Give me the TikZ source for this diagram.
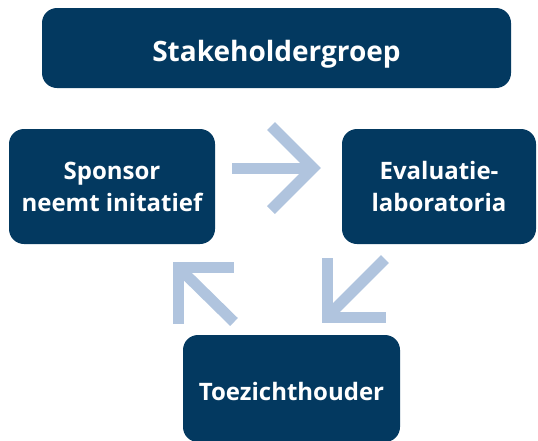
\documentclass[tikz,border=0pt]{standalone}
\usepackage{fontspec}
\setmainfont{Open Sans}
\usetikzlibrary{calc}
\definecolor{navy}{RGB}{3,57,96}
\definecolor{paleblue}{RGB}{176,196,222}

\begin{document}
\begin{tikzpicture}[x=1pt,y=-1pt,
    textdrop/.style={execute at begin node={\rule{0pt}{#1}}},
    box/.style={fill=navy, rounded corners=15pt, text=white, align=center, inner sep=0pt,
      font=\bfseries\fontsize{24}{32}\selectfont, textdrop=25pt},
    flow/.style={draw=paleblue, line width=11pt, line join=miter}]
  \useasboundingbox (0,0) rectangle (538,440);
  \node[box, minimum width=469pt, minimum height=80pt, textdrop=33pt,
    font=\bfseries\fontsize{28}{32}\selectfont] (stake) at (276.5,48) {Stakeholdergroep};
  \node[box, minimum width=206pt, minimum height=115pt] (sponsor) at (112,186.5) {Sponsor\\neemt initatief};
  \node[box, minimum width=194pt, minimum height=115pt] (evalab) at (439,186.5) {Evaluatie-\\laboratoria};
  \node[box, minimum width=217pt, minimum height=107pt] (toezicht) at (291.5,388.5) {Toezichthouder};
  % arrows between the boxes
  \coordinate (r1) at (232,168);
  \coordinate (r2) at (313,168);
  \coordinate (d1) at (385,259);
  \coordinate (d2) at (327,317);
  \coordinate (u1) at (234,322);
  \coordinate (u2) at (178,267);
  \draw[flow] (r1) -- (r2);
  \draw[flow] ($(r2)+(-42,-42)$) -- (r2) -- ($(r2)+(-42,42)$);
  \draw[flow] (d1) -- (d2);
  \draw[flow] ($(d2)+(0,-59)$) -- (d2) -- ($(d2)+(59,0)$);
  \draw[flow] (u1) -- (u2);
  \draw[flow] ($(u2)+(0,57)$) -- (u2) -- ($(u2)+(56,0)$);
\end{tikzpicture}
\end{document}
